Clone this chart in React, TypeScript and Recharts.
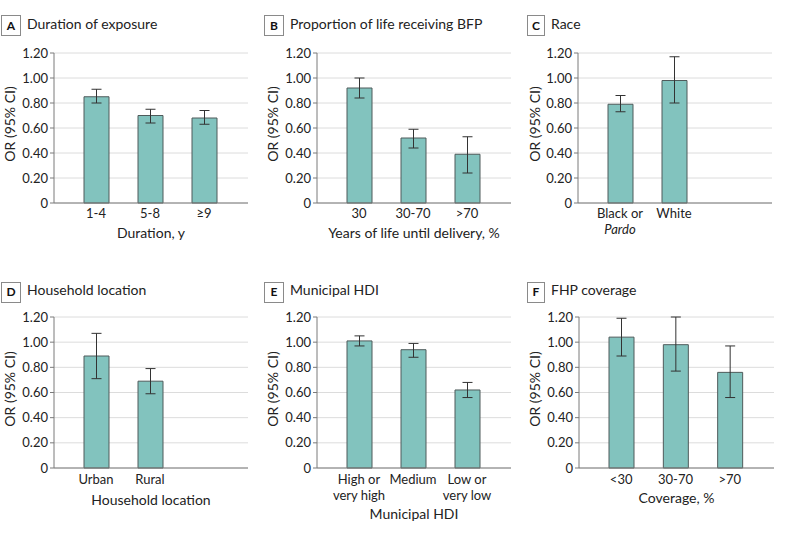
import { BarChart, Bar, XAxis, YAxis, CartesianGrid, ErrorBar } from 'recharts';

const yTicks = [0, 0.2, 0.4, 0.6, 0.8, 1.0, 1.2];

// A - Duration of exposure
const durationCats = ['1-4', '5-8', '≥9'];
const durationOR = [0.85, 0.7, 0.68];
const durationLow = [0.8, 0.64, 0.63];
const durationHigh = [0.91, 0.75, 0.74];

// B - Proportion of life receiving BFP
const proportionCats = ['30', '30-70', '>70'];
const proportionOR = [0.92, 0.52, 0.39];
const proportionLow = [0.84, 0.44, 0.24];
const proportionHigh = [1.0, 0.59, 0.53];

// C - Race
const raceCats = ['Black or\nPardo', 'White'];
const raceOR = [0.79, 0.98];
const raceLow = [0.73, 0.8];
const raceHigh = [0.86, 1.17];

// D - Household location
const locationCats = ['Urban', 'Rural'];
const locationOR = [0.89, 0.69];
const locationLow = [0.71, 0.59];
const locationHigh = [1.07, 0.79];

// E - Municipal HDI
const hdiCats = ['High or\nvery high', 'Medium', 'Low or\nvery low'];
const hdiOR = [1.01, 0.94, 0.62];
const hdiLow = [0.97, 0.88, 0.56];
const hdiHigh = [1.05, 0.99, 0.68];

// F - FHP coverage
const coverageCats = ['<30', '30-70', '>70'];
const coverageOR = [1.04, 0.98, 0.76];
const coverageLow = [0.89, 0.77, 0.56];
const coverageHigh = [1.19, 1.2, 0.97];

const FONT = 'Lato, "Liberation Sans", Arial, sans-serif';
const TEXT = '#222';
const AXIS = '#7a7a7a';

const toRows = (cats: string[], or: number[], lo: number[], hi: number[]) =>
  cats.map((c, i) => ({
    name: c,
    or: or[i],
    err: [+(or[i] - lo[i]).toFixed(3), +(hi[i] - or[i]).toFixed(3)],
  }));

const makeTick = (dy: number) => (props: any) => {
  const { x, y, payload } = props;
  const lines = String(payload.value).split('\n');
  return (
    <text x={x} y={y + dy} textAnchor="middle" fontSize={13} fill={TEXT} fontFamily={FONT}>
      {lines.map((ln, i) => (
        <tspan key={i} x={x} dy={i === 0 ? 0 : 16} fontStyle={ln === 'Pardo' ? 'italic' : 'normal'}>
          {ln}
        </tspan>
      ))}
    </text>
  );
};

interface PanelProps {
  left: number;
  top: number;
  height: number;
  axisX: number;
  rightMargin: number;
  xHeight: number;
  labelOffset: number;
  tickDy: number;
  cats: string[];
  or: number[];
  lo: number[];
  hi: number[];
  xTitle?: string;
}

function Panel(p: PanelProps) {
  const data = toRows(p.cats, p.or, p.lo, p.hi);
  const rightPad = p.cats.length === 3 ? 17 : 71;
  return (
    <div style={{ position: 'absolute', left: p.left, top: p.top }}>
      <BarChart
        width={263}
        height={p.height}
        data={data}
        margin={{ top: 13, right: p.rightMargin, bottom: 0, left: 0 }}
      >
        <CartesianGrid vertical={false} stroke="#dcdcdc" />
        <XAxis
          dataKey="name"
          interval={0}
          tickLine={false}
          tickSize={0}
          tickMargin={0}
          height={p.xHeight}
          stroke={AXIS}
          padding={{ left: 15, right: rightPad }}
          tick={makeTick(p.tickDy)}
          label={
            p.xTitle
              ? { value: p.xTitle, position: 'insideBottom', offset: p.labelOffset, fontSize: 14, fill: TEXT, fontFamily: FONT }
              : undefined
          }
        />
        <YAxis
          width={p.axisX}
          domain={[0, 1.2]}
          ticks={yTicks}
          interval={0}
          tickSize={4}
          tickMargin={2}
          stroke={AXIS}
          tick={{ fontSize: 13, fill: TEXT, fontFamily: FONT }}
          tickFormatter={(v: number) => (v === 0 ? '0' : v.toFixed(2))}
        />
        <Bar dataKey="or" barSize={25} fill="#82c3be" stroke="#4f5b5b" strokeWidth={1} isAnimationActive={false}>
          <ErrorBar dataKey="err" width={5} stroke="#333" strokeWidth={1} direction="y" />
        </Bar>
      </BarChart>
    </div>
  );
}

const titles = [
  { letter: 'A', text: 'Duration of exposure', x: 1, w: 19, top: 15, base: 29 },
  { letter: 'B', text: 'Proportion of life receiving BFP', x: 264, w: 19, top: 15, base: 29 },
  { letter: 'C', text: 'Race', x: 527, w: 17, top: 15, base: 29 },
  { letter: 'D', text: 'Household location', x: 1, w: 19, top: 282, base: 295 },
  { letter: 'E', text: 'Municipal HDI', x: 264, w: 19, top: 282, base: 295 },
  { letter: 'F', text: 'FHP coverage', x: 527, w: 17, top: 282, base: 295 },
];

const yTitles = [
  { x: 9, y: 124 },
  { x: 272, y: 124 },
  { x: 534, y: 124 },
  { x: 9, y: 389 },
  { x: 272, y: 389 },
  { x: 534, y: 389 },
];

export default function App() {
  const row1 = { top: 40, height: 208, xHeight: 45, tickDy: 15 };
  const row2 = { top: 304, height: 224, xHeight: 60, tickDy: 16 };
  return (
    <div style={{ position: 'absolute', left: 0, top: 0, width: 789, height: 554, background: '#fff', fontFamily: FONT }}>
      <Panel {...row1} left={0} axisX={54} rightMargin={15} labelOffset={10}
        cats={durationCats} or={durationOR} lo={durationLow} hi={durationHigh} xTitle="Duration, y" />
      <Panel {...row1} left={263} axisX={54} rightMargin={15} labelOffset={10}
        cats={proportionCats} or={proportionOR} lo={proportionLow} hi={proportionHigh} xTitle="Years of life until delivery, %" />
      <Panel {...row1} left={526} axisX={52} rightMargin={17} labelOffset={10}
        cats={raceCats} or={raceOR} lo={raceLow} hi={raceHigh} />
      <Panel {...row2} left={0} axisX={54} rightMargin={15} labelOffset={23}
        cats={locationCats} or={locationOR} lo={locationLow} hi={locationHigh} xTitle="Household location" />
      <Panel {...row2} left={263} axisX={54} rightMargin={15} labelOffset={9}
        cats={hdiCats} or={hdiOR} lo={hdiLow} hi={hdiHigh} xTitle="Municipal HDI" />
      <Panel {...row2} left={526} axisX={53} rightMargin={15} labelOffset={25}
        cats={coverageCats} or={coverageOR} lo={coverageLow} hi={coverageHigh} xTitle="Coverage, %" />
      <svg width={789} height={554} style={{ position: 'absolute', left: 0, top: 0, pointerEvents: 'none' }}>
        {titles.map((t) => (
          <g key={t.letter}>
            <rect x={t.x + 0.5} y={t.top + 0.5} width={t.w} height={20} fill="#fff" stroke="#8a8a8a" />
            <text x={t.x + 0.5 + t.w / 2} y={t.base + 1} textAnchor="middle" fontSize={12} fontWeight="bold" fill="#111" fontFamily={FONT}>
              {t.letter}
            </text>
            <text x={t.x + t.w + 7} y={t.base} fontSize={14} fill={TEXT} fontFamily={FONT}>
              {t.text}
            </text>
          </g>
        ))}
        {yTitles.map((p, i) => (
          <text key={i} x={p.x} y={p.y} transform={`rotate(-90 ${p.x} ${p.y})`} textAnchor="middle"
            dominantBaseline="central" fontSize={14} fill={TEXT} fontFamily={FONT}>
            OR (95% CI)
          </text>
        ))}
      </svg>
    </div>
  );
}
